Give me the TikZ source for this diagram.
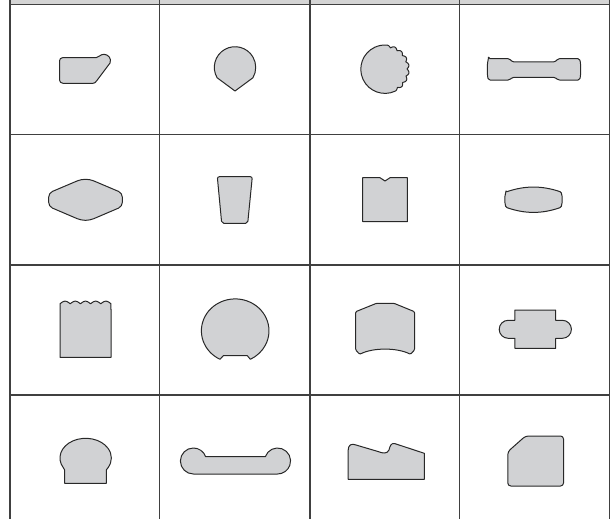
\documentclass[tikz,border=0pt]{standalone}
\definecolor{gridline}{RGB}{64,64,64}
\definecolor{partfill}{RGB}{209,210,212}
\definecolor{partline}{RGB}{40,40,40}
\definecolor{headfill}{RGB}{212,212,212}
\usepackage{tikz}
\usetikzlibrary{calc}

\begin{document}
\begin{tikzpicture}[x=1pt, y=-1pt,
    cell/.style={draw=gridline, line width=1.4pt},
    part/.style={draw=partline, fill=partfill, line width=1pt, line join=round}]
    \useasboundingbox (0,0) rectangle (613,519);
    % header strip and table grid
    \fill[headfill] (10,0) rectangle (609.5,4.7);
    \foreach \gx in {10,159.5,310,459.5,609.5}
        \draw[cell] (\gx,0) -- (\gx,519);
    \foreach \gy in {4.7,134.7,264.8,395}
        \draw[cell] (10,\gy) -- (609.5,\gy);

    % row 1
    \draw[part] (63,83.3) to[out=180,in=-90] (59.5,80) -- (59.5,61)
        to[out=90,in=180] (62.5,57.7) -- (96,57.7)
        .. controls (99,57.5) and (100,54.3) .. (104,54.3)
        .. controls (108,54.3) and (112,58.5) .. (110,63)
        -- (96.5,81) .. controls (95.5,82.5) and (94.5,83.3) .. (93,83.3) -- cycle;
    \draw[part] (235,91) -- (217.1,77.75)
        arc[start angle=150, end angle=390, radius=20.7] -- cycle;
    \draw[part] (385,69.2) ++(65:24.2)
        arc[start angle=65, end angle=275, radius=24.2]
        -- plot[domain=275:425, samples=160]
        ({385+(22+2.2*abs(cos(9.6*(\x-275))))*cos(\x)},
         {69.2+(22+2.2*abs(cos(9.6*(\x-275))))*sin(\x)}) -- cycle;
    \draw[part, rounded corners=1.5] (488.5,58.7) -- (509.5,58.7) -- (512.5,62)
        -- (555,62) -- (558,58.7) -- (579.5,58.7)
        .. controls (581,64) and (581,75) .. (579.5,80)
        -- (558,80) -- (555,77.3) -- (512.5,77.3) -- (509.5,80) -- (488.5,80)
        .. controls (487,75) and (487,64) .. (488.5,58.7) -- cycle;

    % row 2
    \draw[part, rounded corners=4] (48.7,193) -- (81,179.3) -- (90,179.3)
        -- (122.3,193) -- (122.3,206.5) -- (90,220.3) -- (81,220.3)
        -- (48.7,206.5) -- cycle;
    \draw[part, rounded corners=2] (217.3,176.7) -- (252.3,176.7)
        -- (247.7,223.3) -- (221.7,223.3) -- cycle;
    \draw[part] (362.7,177.7) -- (380,177.7) -- (385,181) -- (390,177.7)
        -- (407.3,177.7) -- (407.3,221.7) -- (362.7,221.7) -- cycle;
    \draw[part, rounded corners=1] (506,192)
        .. controls (525,185.5) and (542,185.5) .. (561,192)
        .. controls (562.5,196) and (562.5,203) .. (561,207.3)
        .. controls (542,214) and (525,214) .. (506,207.3)
        .. controls (504.5,203) and (504.5,196) .. (506,192) -- cycle;

    % row 3
    \draw[part] (60,357.3) -- (60,303.8)
        -- plot[domain=60:111, samples=120]
        (\x,{303.8-2.6*abs(sin(180*(\x-60)/10.2))})
        -- (111,357.3) -- cycle;
    \draw[part] (220,359.3)
        arc[start angle=116.7, end angle=423.3, x radius=33.8, y radius=31.9]
        -- (247.3,355.7) -- (223.3,355.7) -- cycle;
    \draw[part, rounded corners=1] (355.7,350) -- (355.7,311.7) -- (376.5,303.3)
        -- (394,303.3) -- (414.5,311.7) -- (414.5,350) -- (410.5,354.3)
        .. controls (397,347.5) and (373,347.5) .. (359.7,354.3) -- cycle;
    \draw[part] (514.9,310) -- (555.7,310) -- (555.7,320.3) -- (562.4,320.3)
        arc[start angle=-90, end angle=90, radius=9] -- (555.7,338.3)
        -- (555.7,348.3) -- (514.9,348.3) -- (514.9,338.3) -- (508.2,338.3)
        arc[start angle=90, end angle=270, radius=9] -- (514.9,320.3) -- cycle;

    % row 4
    \draw[part] (64.7,483.3) -- (64.7,470) -- (63.3,467.7)
        arc[start angle=150.5, end angle=389.5, x radius=25.7, y radius=19.7]
        -- (106.3,470) -- (106.3,483.3) -- cycle;
    \draw[part] (205.7,456.7) -- (265.3,456.7)
        arc[start angle=199.3, end angle=450, radius=13] -- (193.4,474)
        arc[start angle=90, end angle=340.7, radius=13] -- cycle;
    \draw[part] (348.2,479.3) -- (348.2,450)
        .. controls (348.2,445) and (351.5,443) .. (356,445) -- (378,451.5)
        .. controls (383,453.5) and (387,454) .. (389,450)
        .. controls (390,446) and (391,443) .. (394.5,443.5)
        -- (424.3,453.3) -- (424.3,479.3) -- cycle;
    \draw[part, rounded corners=3] (525.5,436) -- (563.5,436) -- (563.5,486)
        -- (507.8,486) -- (507.8,451.7) -- cycle;
\end{tikzpicture}
\end{document}
